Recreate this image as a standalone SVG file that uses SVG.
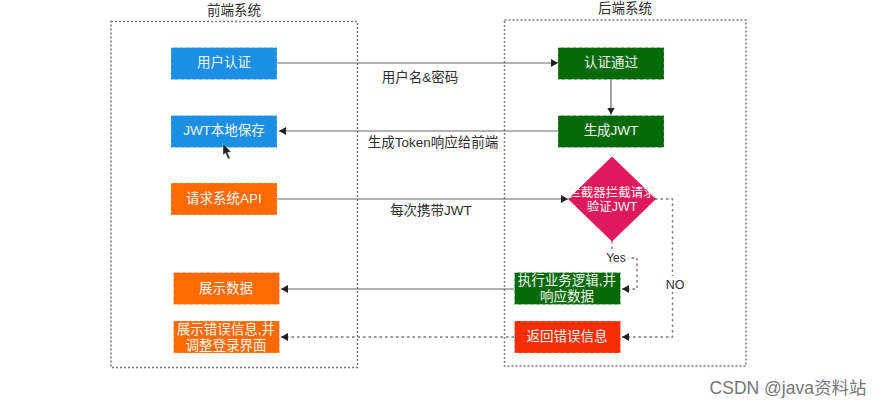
<svg xmlns="http://www.w3.org/2000/svg" width="883" height="409" viewBox="0 0 883 409">
<style>
text{font-family:"Liberation Sans","Noto Sans CJK SC",sans-serif;font-size:13.500px;text-anchor:middle;fill:#2e2e2e}
.n text{fill:#f4f4ee}
.box{fill:none;stroke:#777;stroke-width:1.5;stroke-dasharray:2 2}
.c{fill:none;stroke:#666;stroke-width:1.2;marker-end:url(#a)}
.d{stroke-dasharray:2.5 3;stroke:#777;stroke-width:1.4}
.n rect{stroke:#fff;stroke-opacity:.45;stroke-width:1;stroke-dasharray:3 3}
.blue{fill:#1a8fe3}.org{fill:#ff6a00}.grn{fill:#056b08}.red{fill:#f62d00}
</style>
<defs><marker id="a" markerUnits="userSpaceOnUse" markerWidth="8" markerHeight="8" refX="7" refY="4" orient="auto"><path d="M0 0L7 4L0 8Z" fill="#222"/></marker></defs>
<rect width="883" height="409" fill="#fff"/>
<g id="frontend"><rect class="box" x="111" y="21.500" width="246.500" height="346"/><text x="234" y="15">前端系统</text></g>
<g id="backend"><rect class="box" x="504.500" y="20" width="241.500" height="346"/><text x="625" y="13">后端系统</text></g>
<g id="connectors">
<path class="c" d="M277 63H558"/>
<path class="c" d="M611 80V114.500"/>
<path class="c" d="M558 131H279"/>
<path class="c" d="M277 199H568"/>
<path class="c" d="M514 289H281"/>
<path class="c d" d="M514 337H281"/>
<path class="c d" d="M612 241V252M626 258H637V289H622"/>
<path class="c d" d="M655 199H672.500V337H622"/>
</g>
<g id="n1" class="n"><rect class="blue" x="171" y="47.500" width="106" height="32"/><text x="224" y="67">用户认证</text></g>
<g id="n2" class="n"><rect class="blue" x="171" y="115.500" width="106" height="32"/><text x="224" y="135">JWT本地保存</text></g>
<g id="n3" class="n"><rect class="org" x="171" y="183" width="106" height="32"/><text x="224" y="203">请求系统API</text></g>
<g id="n4" class="n"><rect class="org" x="173.500" y="272.500" width="106" height="32"/><text x="226" y="293">展示数据</text></g>
<g id="n5" class="n"><rect class="org" x="173.500" y="321" width="106" height="32"/><text x="226" y="334">展示错误信息,并</text><text x="226" y="350">调整登录界面</text></g>
<g id="n6" class="n"><rect class="grn" x="558" y="47.500" width="106" height="32"/><text x="611" y="67">认证通过</text></g>
<g id="n7" class="n"><rect class="grn" x="558" y="115.500" width="106" height="32"/><text x="611" y="135">生成JWT</text></g>
<g id="n8" class="n"><path d="M612 156.500L656 199L612 241.500L568 199Z" fill="#e0195f"/><text x="612" y="197" style="font-size:12.500px">拦截器拦截请求</text><text x="612" y="211" style="font-size:12.500px">验证JWT</text></g>
<g id="n9" class="n"><rect class="grn" x="514.500" y="272.500" width="106" height="32"/><text x="567" y="285">执行业务逻辑,并</text><text x="567" y="301">响应数据</text></g>
<g id="n10" class="n"><rect class="red" x="514.500" y="321" width="106" height="32"/><text x="567" y="341">返回错误信息</text></g>
<g id="labels">
<text x="420" y="82">用户名&amp;密码</text>
<text x="433" y="147">生成Token响应给前端</text>
<text x="431" y="215">每次携带JWT</text>
<rect x="604" y="251" width="24" height="14" fill="#fff"/>
<text x="616" y="262" style="font-size:12px">Yes</text>
<rect x="664" y="276" width="20" height="16" fill="#fff"/>
<text x="675" y="289" style="font-size:12.500px">NO</text>
<text x="788" y="394" style="font-size:17.500px;fill:#777">CSDN @java资料站</text>
</g>
<path id="cursor" d="M223 143.500V155L225.500 153L228 159L230 158L227.500 152.500L231 152Z" fill="#222" stroke="#dff" stroke-width=".4"/>
</svg>
